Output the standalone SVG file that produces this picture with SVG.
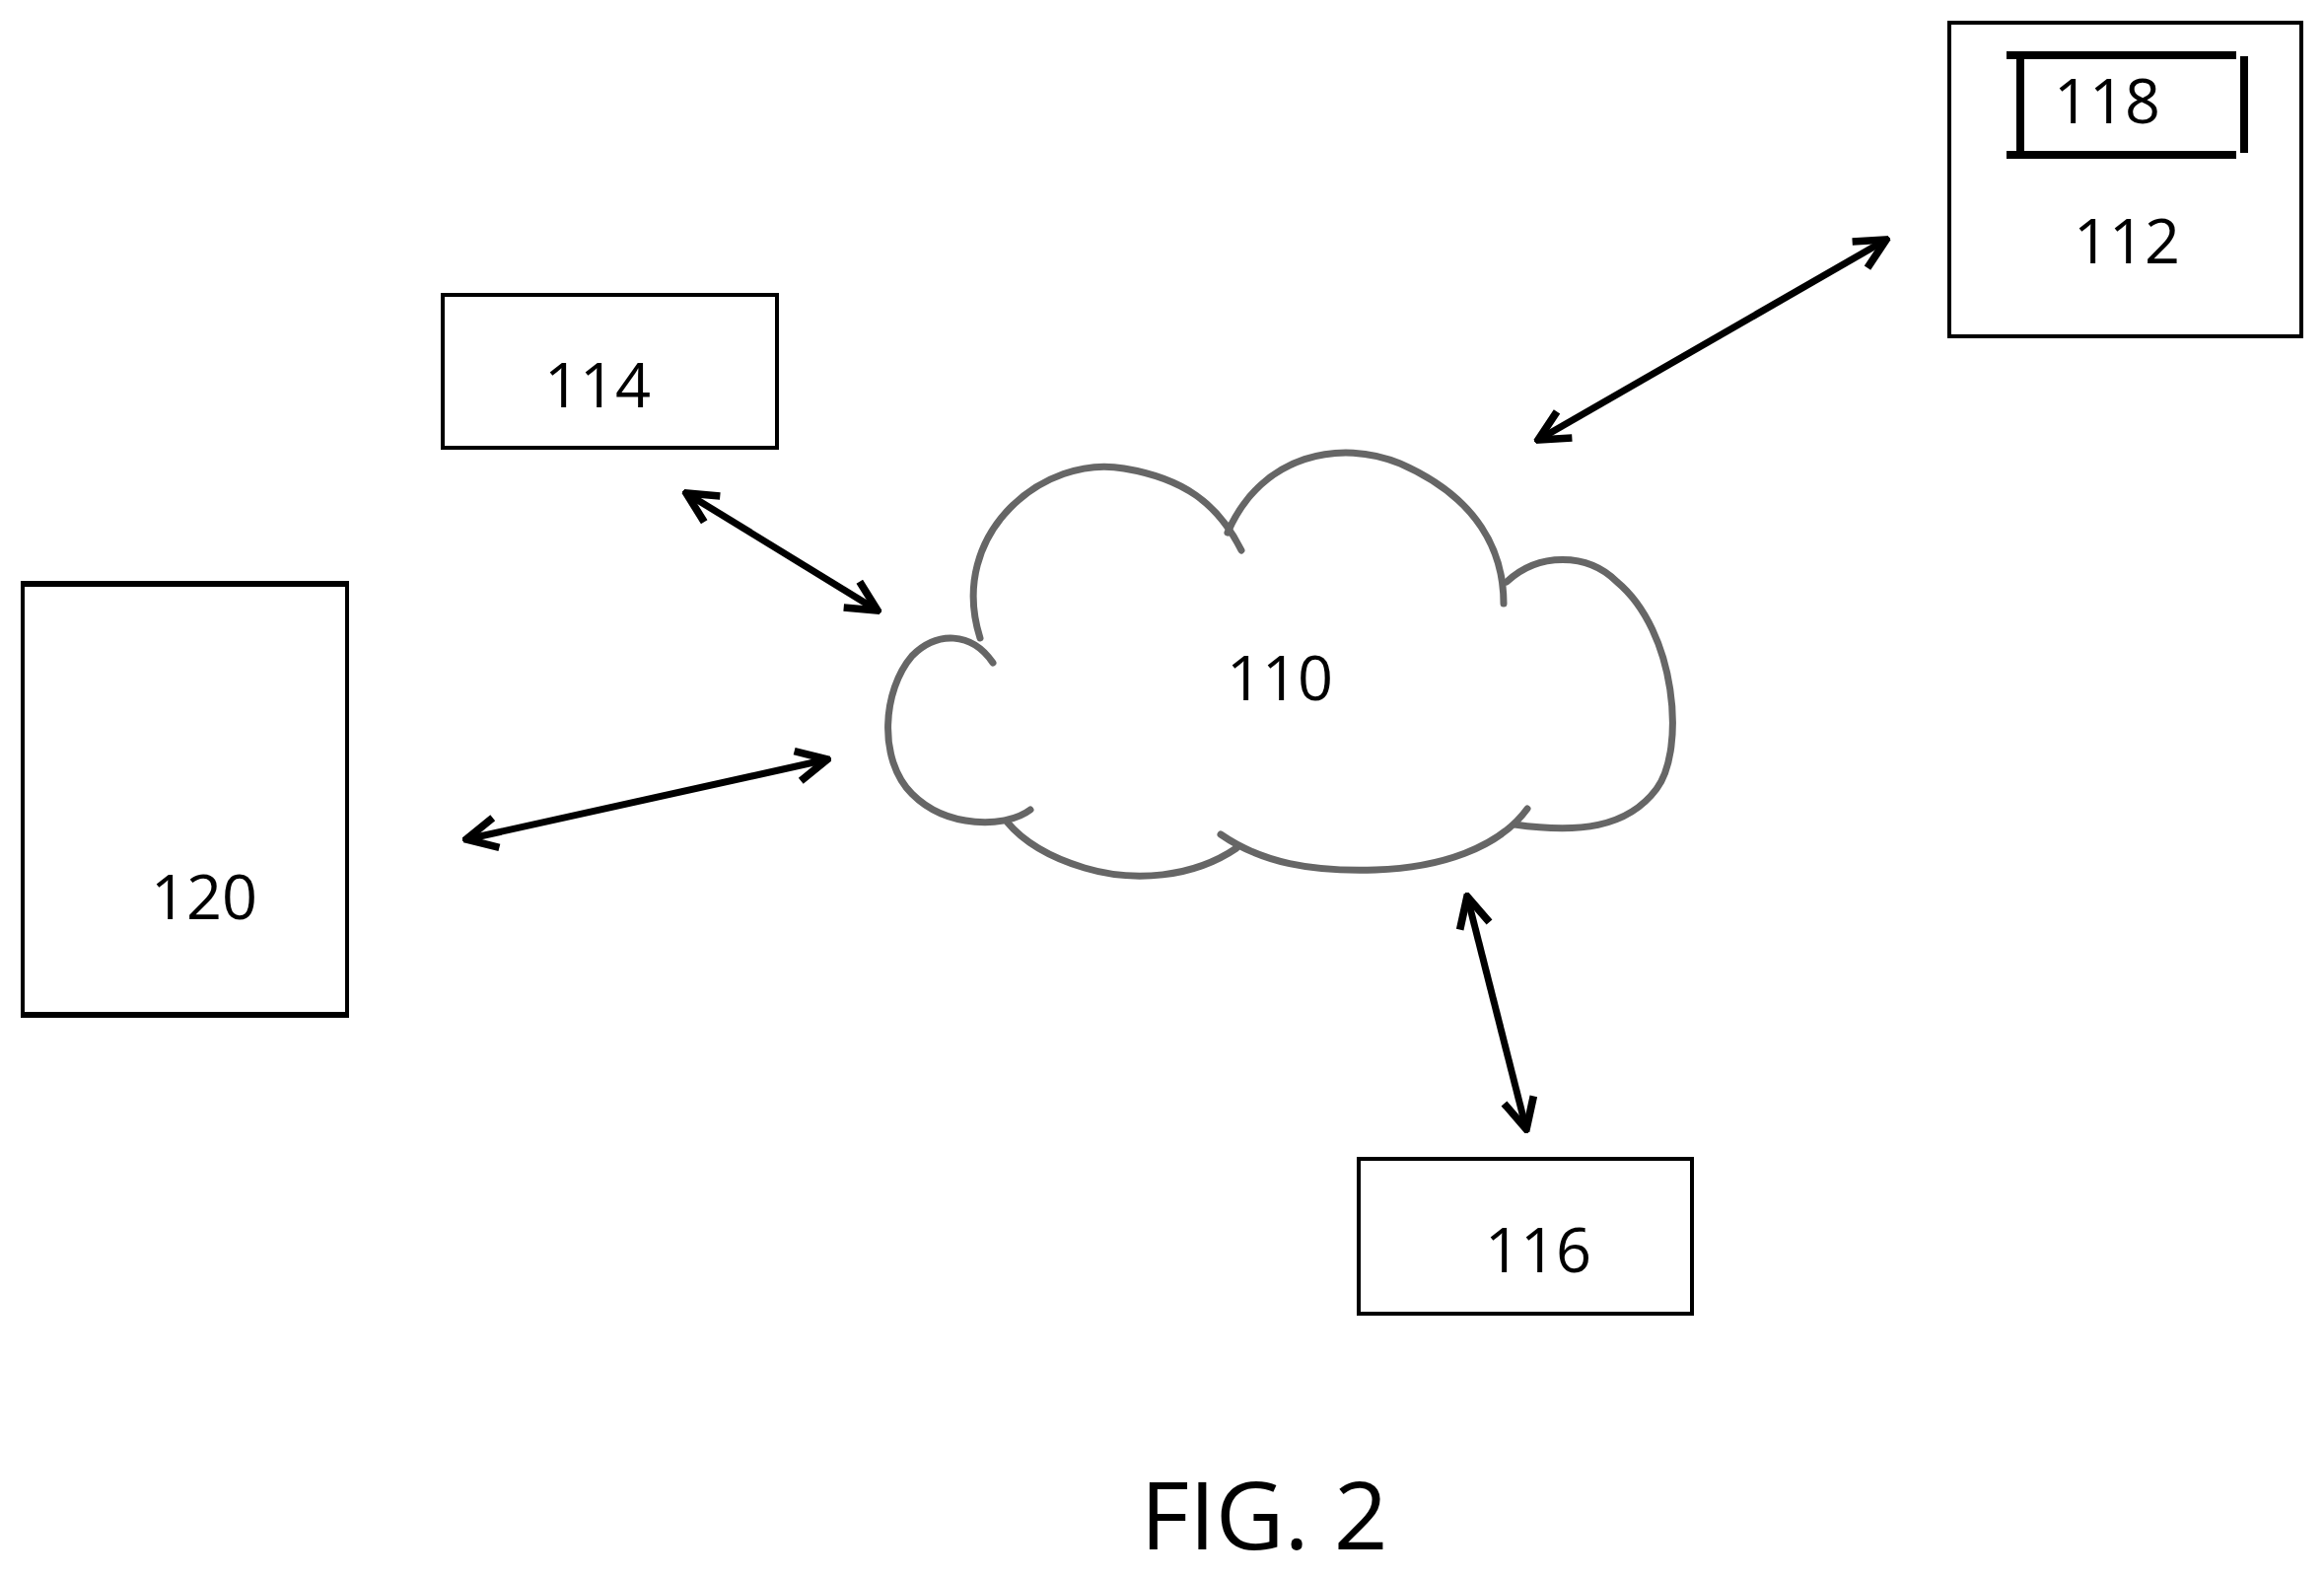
<svg xmlns="http://www.w3.org/2000/svg" width="2357" height="1600" viewBox="0 0 2357 1600">
<style>
.box{fill:#fff;stroke:#000;stroke-width:4}
.lbl{font-family:"Open Sans","Liberation Sans",sans-serif;font-size:63px;fill:#000;text-anchor:middle}
.cl{fill:none;stroke:#666;stroke-width:7;stroke-linecap:round}
.ar{stroke:#000;stroke-width:7;fill:none;marker-start:url(#h);marker-end:url(#h)}
</style>
<defs>
<marker id="h" viewBox="0 0 10 10" refX="9" refY="5" markerWidth="5.5" markerHeight="5.5" orient="auto-start-reverse" markerUnits="strokeWidth">
<path d="M1,1 L9,5 L1,9" fill="none" stroke="#000" stroke-width="2" stroke-linejoin="miter"/>
</marker>
</defs>
<rect width="2357" height="1600" fill="#fff"/>
<g id="n110">
<path class="cl" d="M994,647 C960,540 1060,460 1140,475 C1200,485 1235,510 1259,558"/>
<path class="cl" d="M1245,540 C1280,460 1360,445 1420,470 C1500,505 1525,560 1525,612"/>
<path class="cl" d="M1528,590 C1560,560 1610,560 1640,590 C1700,640 1710,760 1680,800 C1650,840 1600,845 1536,836"/>
<path class="cl" d="M1549,820 C1520,860 1460,880 1395,882 C1330,884 1280,875 1238,846"/>
<path class="cl" d="M1254,860 C1210,890 1150,895 1100,880 C1060,868 1035,850 1021,833"/>
<path class="cl" d="M1045,821 C1020,840 960,840 925,805 C890,770 895,700 925,665 C950,640 985,640 1007,672"/>
<text class="lbl" x="1298" y="710">110</text>
</g>
<g id="n114"><rect class="box" x="449" y="299" width="339" height="155"/><text class="lbl" x="606" y="413">114</text></g>
<g id="n120"><rect class="box" x="23" y="591" width="329" height="439"/>
<line x1="22" y1="592" x2="353" y2="592" stroke="#000" stroke-width="6"/><line x1="22" y1="1029" x2="353" y2="1029" stroke="#000" stroke-width="6"/>
<text class="lbl" x="207" y="932">120</text></g>
<g id="n112"><rect class="box" x="1977" y="23" width="357" height="318"/><text class="lbl" x="2157" y="267">112</text></g>
<g id="n118" stroke="#000" stroke-width="8">
<line x1="2035" y1="56" x2="2268" y2="56"/><line x1="2035" y1="157" x2="2268" y2="157"/>
<line x1="2049" y1="56" x2="2049" y2="157"/><line x1="2276" y1="57" x2="2276" y2="155"/>
<text class="lbl" x="2137" y="125" stroke="none">118</text></g>
<g id="n116"><rect class="box" x="1378" y="1175" width="338" height="157"/><text class="lbl" x="1560" y="1290">116</text></g>
<g id="connectors">
<line class="ar" x1="696" y1="500" x2="890" y2="619"/>
<line class="ar" x1="473" y1="851" x2="839" y2="770"/>
<line class="ar" x1="1560" y1="446" x2="1913" y2="243"/>
<line class="ar" x1="1488" y1="909" x2="1548" y2="1145"/>
</g>
<text class="lbl" x="1282" y="1571" style="font-size:96px">FIG. 2</text>
</svg>
